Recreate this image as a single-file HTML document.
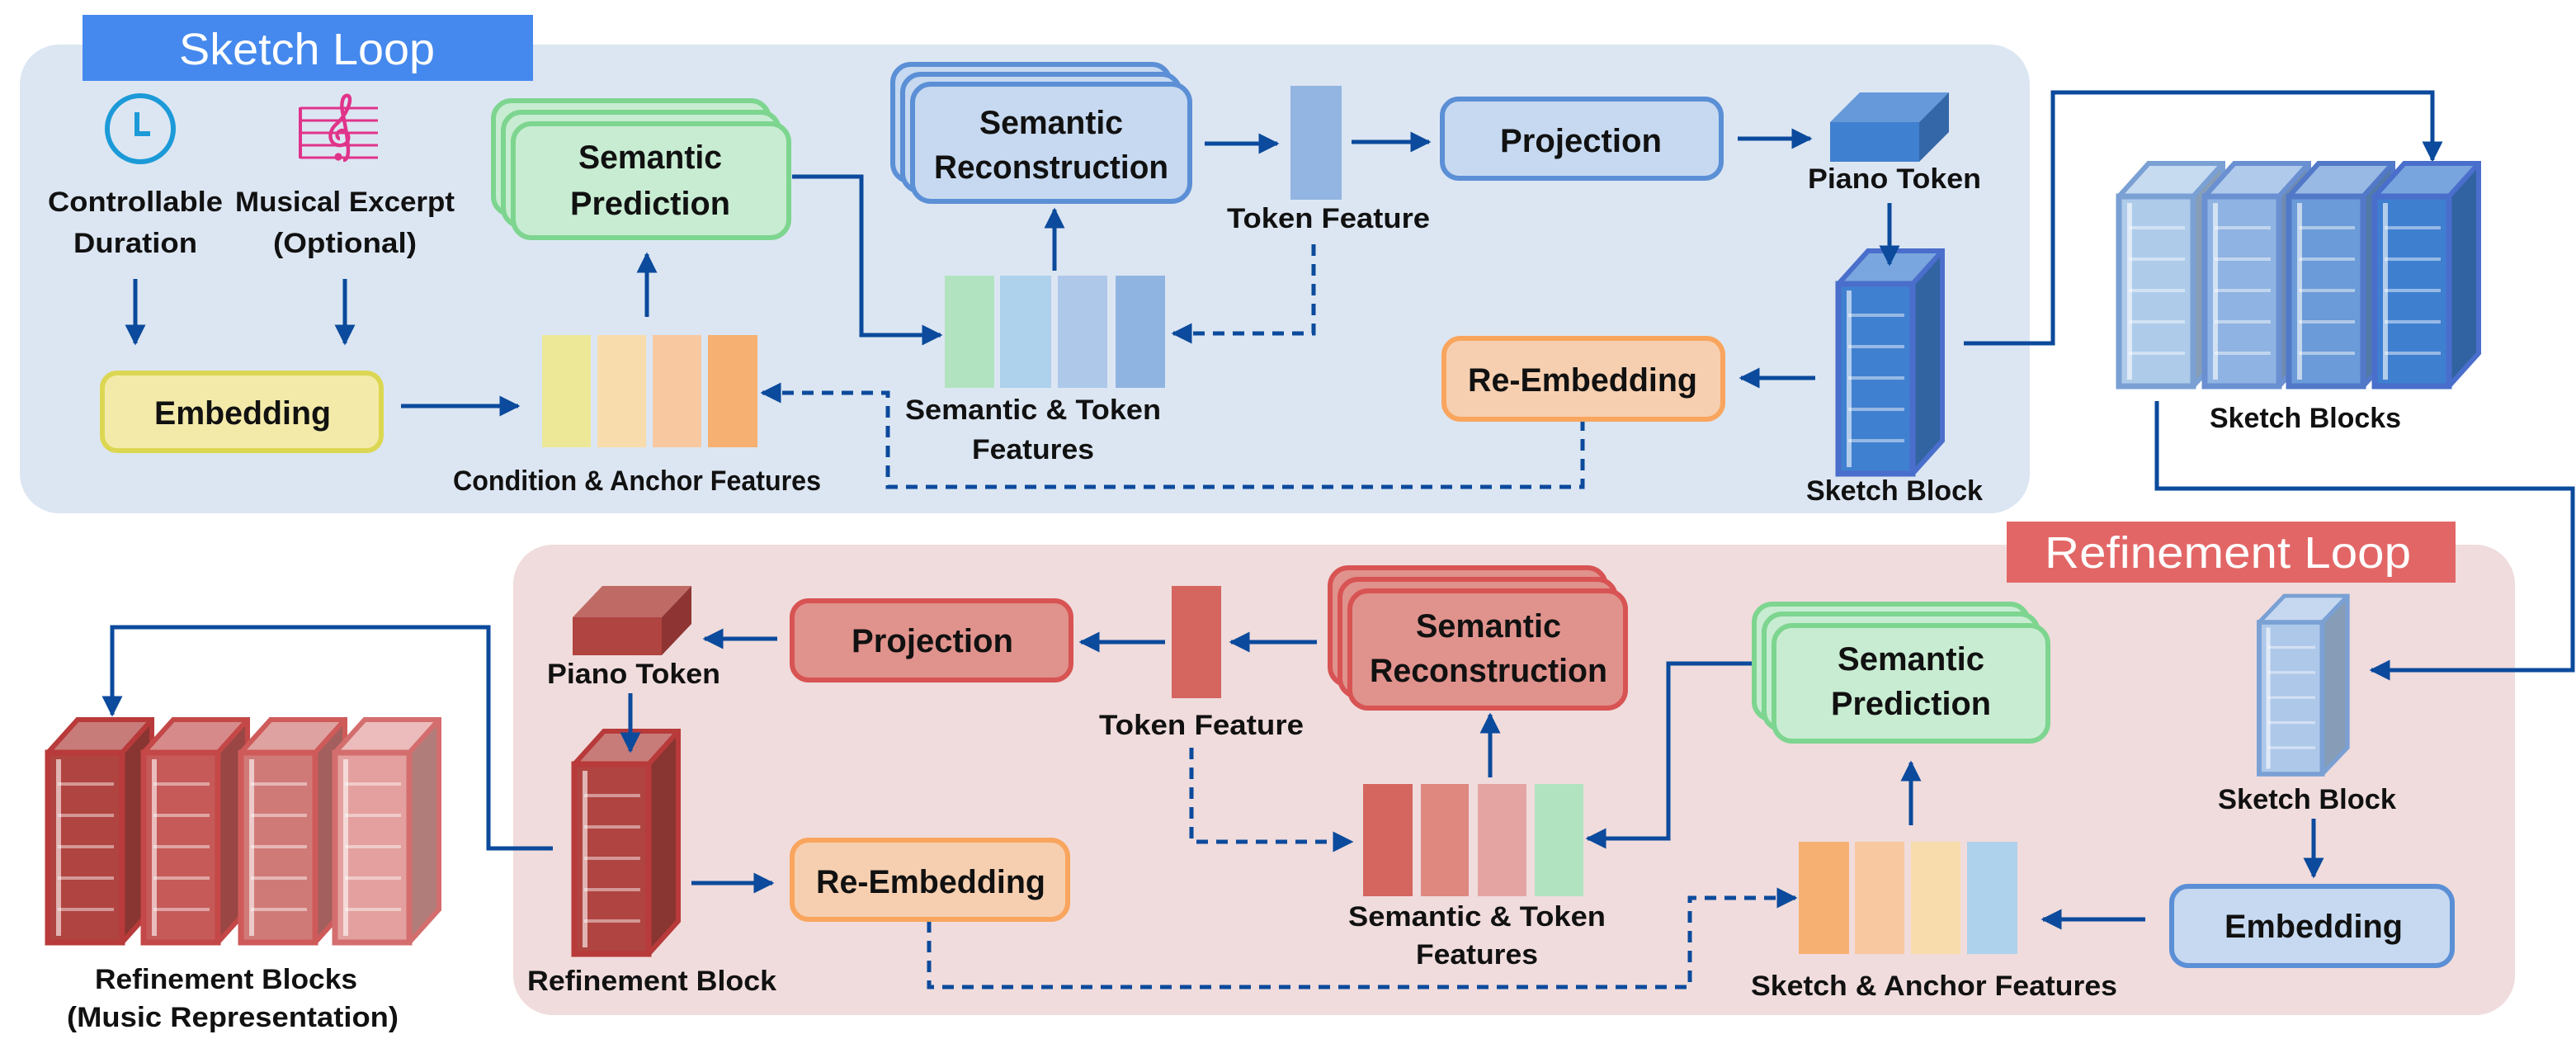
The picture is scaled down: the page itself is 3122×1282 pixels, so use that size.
<!DOCTYPE html>
<html><head><meta charset="utf-8"><style>
html,body{margin:0;padding:0;background:#fff;}
svg{display:block;}
text{font-family:"Liberation Sans",sans-serif;font-weight:bold;fill:#111;}
.l{font-size:17px;}
.b{font-size:20px;}
.h{font-weight:normal;fill:#fff;font-size:27px;}
</style></head><body>
<svg width="3122" height="1282" viewBox="0 0 1561 641" xmlns="http://www.w3.org/2000/svg">
<defs>
<marker id="ar" viewBox="0 0 10 10" refX="9" refY="5" markerWidth="5" markerHeight="5.6" orient="auto" markerUnits="strokeWidth">
<path d="M0,0 L10,5 L0,10 Z" fill="#0b4a9c"/></marker>
<g id="blk">
<path d="M0,0 L45,0 L63,-20 L18,-20Z" fill="currentColor"/>
<path d="M0,0 L45,0 L63,-20 L18,-20Z" fill="#fff" opacity=".3" stroke="none"/>
<path d="M45,0 L63,-20 L63,95 L45,115Z" fill="currentColor"/>
<path d="M45,0 L63,-20 L63,95 L45,115Z" fill="#000" opacity=".22" stroke="none"/>
<rect x="0" y="0" width="45" height="115" fill="currentColor"/>
<rect x="5" y="4" width="3" height="107" fill="#fff" opacity=".6" stroke="none"/>
<g stroke="#fff" stroke-width="2" opacity=".45"><line x1="6" y1="19" x2="40" y2="19"/><line x1="6" y1="38" x2="40" y2="38"/><line x1="6" y1="57" x2="40" y2="57"/><line x1="6" y1="76" x2="40" y2="76"/><line x1="6" y1="95" x2="40" y2="95"/></g>
<rect x="0" y="0" width="45" height="115" fill="none" stroke-width="3.5"/>
<path d="M0,0 L18,-20 L63,-20 L63,95 L45,115 M45,0 L63,-20" fill="none" stroke-width="3"/>
</g>
</defs>

<!-- panels -->
<rect x="12" y="27" width="1218" height="284" rx="24" fill="#dce6f2"/>
<rect x="50" y="9" width="273" height="40" fill="#4589ee"/>
<text class="h" x="186" y="39" text-anchor="middle" textLength="155" lengthAdjust="spacingAndGlyphs">Sketch Loop</text>
<rect x="311" y="330" width="1213" height="285" rx="24" fill="#f0dcdc"/>
<rect x="1216" y="316" width="272" height="37" fill="#e36666"/>
<text class="h" x="1350" y="344" text-anchor="middle" textLength="222" lengthAdjust="spacingAndGlyphs">Refinement Loop</text>

<g stroke="#0b4a9c" stroke-width="2.5" fill="none">
<line x1="82" y1="169" x2="82" y2="208" marker-end="url(#ar)"/>
<line x1="209" y1="169" x2="209" y2="208" marker-end="url(#ar)"/>
<line x1="243" y1="246" x2="314" y2="246" marker-end="url(#ar)"/>
<line x1="392" y1="192" x2="392" y2="154" marker-end="url(#ar)"/>
<path d="M480,107 L522,107 L522,203 L570,203" marker-end="url(#ar)"/>
<line x1="639" y1="164" x2="639" y2="127" marker-end="url(#ar)"/>
<line x1="730" y1="87" x2="774" y2="87" marker-end="url(#ar)"/>
<line x1="819" y1="86" x2="866" y2="86" marker-end="url(#ar)"/>
<line x1="1053" y1="84" x2="1097" y2="84" marker-end="url(#ar)"/>
<line x1="1100" y1="229" x2="1055" y2="229" marker-end="url(#ar)"/>
<path d="M1190,208 L1244,208 L1244,56 L1474,56 L1474,97" marker-end="url(#ar)"/>
<path d="M1307,243 L1307,296 L1559,296 L1559,406 L1437,406" marker-end="url(#ar)"/>
<path d="M796,148 L796,202 L711,202" stroke-dasharray="7 5" marker-end="url(#ar)"/>
<path d="M959,254 L959,295 L538,295 L538,238 L462,238" stroke-dasharray="7 5" marker-end="url(#ar)"/>
<line x1="1402" y1="496" x2="1402" y2="531" marker-end="url(#ar)"/>
<line x1="1300" y1="557" x2="1238" y2="557" marker-end="url(#ar)"/>
<line x1="1158" y1="500" x2="1158" y2="462" marker-end="url(#ar)"/>
<path d="M1062,402 L1011,402 L1011,508 L962,508" marker-end="url(#ar)"/>
<line x1="903" y1="471" x2="903" y2="433" marker-end="url(#ar)"/>
<line x1="798" y1="389" x2="746" y2="389" marker-end="url(#ar)"/>
<line x1="706" y1="389" x2="655" y2="389" marker-end="url(#ar)"/>
<line x1="471" y1="387" x2="427" y2="387" marker-end="url(#ar)"/>
<line x1="419" y1="535" x2="468" y2="535" marker-end="url(#ar)"/>
<path d="M335,514 L296,514 L296,380 L68,380 L68,433" marker-end="url(#ar)"/>
<path d="M722,453 L722,510 L819,510" stroke-dasharray="7 5" marker-end="url(#ar)"/>
<path d="M563,558 L563,598 L1024,598 L1024,544 L1088,544" stroke-dasharray="7 5" marker-end="url(#ar)"/>
</g>

<!-- icons -->
<circle cx="85" cy="78" r="20" fill="none" stroke="#1c9ad8" stroke-width="3"/>
<path d="M83,68 L83,81 L91,81" fill="none" stroke="#1c9ad8" stroke-width="3"/>
<g stroke="#e0338a" stroke-width="1.5" fill="none">
<line x1="182" y1="65.5" x2="229" y2="65.5"/><line x1="182" y1="73" x2="229" y2="73"/><line x1="182" y1="80.5" x2="229" y2="80.5"/><line x1="182" y1="88" x2="229" y2="88"/><line x1="182" y1="95.5" x2="229" y2="95.5"/>
<line x1="182" y1="65" x2="182" y2="96" stroke-width="2"/>
<path d="M208,97 C212,97 212,90 208,70 C206,62 208,57 211,58 C214,60 210,70 203,76 C198,81 200,89 207,88 C213,87 212,79 207,79 C203,80 204,84 206,84" stroke-width="2.2"/>
</g>
<circle cx="205" cy="95" r="2.3" fill="#e0338a"/>

<text class="l" x="82" y="128" text-anchor="middle" textLength="106" lengthAdjust="spacingAndGlyphs">Controllable</text>
<text class="l" x="82" y="153" text-anchor="middle" textLength="75" lengthAdjust="spacingAndGlyphs">Duration</text>
<text class="l" x="209" y="128" text-anchor="middle" textLength="133" lengthAdjust="spacingAndGlyphs">Musical Excerpt</text>
<text class="l" x="209" y="153" text-anchor="middle" textLength="87" lengthAdjust="spacingAndGlyphs">(Optional)</text>

<rect x="62" y="226" width="169" height="47" rx="9" fill="#f3eaaa" stroke="#dcd752" stroke-width="3"/>
<text class="b" x="147" y="257" text-anchor="middle" textLength="107" lengthAdjust="spacingAndGlyphs">Embedding</text>

<rect x="328.5" y="203" width="29.5" height="68" fill="#ede898"/>
<rect x="362" y="203" width="29.5" height="68" fill="#f9dcab"/>
<rect x="395.5" y="203" width="29.5" height="68" fill="#f8c8a0"/>
<rect x="429" y="203" width="30" height="68" fill="#f6b072"/>
<text class="l" x="386" y="297" text-anchor="middle" textLength="223" lengthAdjust="spacingAndGlyphs">Condition &amp; Anchor Features</text>

<g fill="#c8ecd2" stroke="#7dd58f" stroke-width="3">
<rect x="299" y="61" width="167" height="69" rx="11"/>
<rect x="305" y="68" width="167" height="69" rx="11"/>
<rect x="311" y="75" width="167" height="69" rx="11"/>
</g>
<text class="b" x="394" y="102" text-anchor="middle" textLength="87" lengthAdjust="spacingAndGlyphs">Semantic</text>
<text class="b" x="394" y="130" text-anchor="middle" textLength="97" lengthAdjust="spacingAndGlyphs">Prediction</text>

<g fill="#c6d9f0" stroke="#5b8fd6" stroke-width="3">
<rect x="541" y="39" width="168" height="71" rx="11"/>
<rect x="547" y="45" width="168" height="71" rx="11"/>
<rect x="553" y="51" width="168" height="71" rx="11"/>
</g>
<text class="b" x="637" y="81" text-anchor="middle" textLength="87" lengthAdjust="spacingAndGlyphs">Semantic</text>
<text class="b" x="637" y="108" text-anchor="middle" textLength="142" lengthAdjust="spacingAndGlyphs">Reconstruction</text>

<rect x="572.5" y="167" width="30" height="68" fill="#b2e3c0"/>
<rect x="606" y="167" width="31" height="68" fill="#aed1ec"/>
<rect x="641" y="167" width="30" height="68" fill="#aec8ea"/>
<rect x="676" y="167" width="30" height="68" fill="#90b4e1"/>
<text class="l" x="626" y="254" text-anchor="middle" textLength="155" lengthAdjust="spacingAndGlyphs">Semantic &amp; Token</text>
<text class="l" x="626" y="278" text-anchor="middle" textLength="74" lengthAdjust="spacingAndGlyphs">Features</text>

<rect x="782" y="52" width="31" height="69" fill="#92b5e2"/>
<text class="l" x="805" y="138" text-anchor="middle" textLength="123" lengthAdjust="spacingAndGlyphs">Token Feature</text>

<rect x="874" y="60" width="169" height="48" rx="10" fill="#c6d9f0" stroke="#5b8fd6" stroke-width="3"/>
<text class="b" x="958" y="92" text-anchor="middle" textLength="98" lengthAdjust="spacingAndGlyphs">Projection</text>

<rect x="875" y="205" width="169" height="49" rx="10" fill="#f6cfb0" stroke="#f9a55e" stroke-width="3"/>
<text class="b" x="959" y="237" text-anchor="middle" textLength="139" lengthAdjust="spacingAndGlyphs">Re-Embedding</text>

<path d="M1109,74 L1163,74 L1181,56 L1127,56Z" fill="#6699d9"/>
<path d="M1163,74 L1181,56 L1181,80 L1163,98Z" fill="#3467a8"/>
<rect x="1109" y="74" width="54" height="24" fill="#4080d0"/>
<text class="l" x="1148" y="114" text-anchor="middle" textLength="105" lengthAdjust="spacingAndGlyphs">Piano Token</text>

<use href="#blk" x="1114" y="172" style="color:#4080d0" stroke="#4a6ecb"/>
<text class="l" x="1148" y="303" text-anchor="middle" textLength="107" lengthAdjust="spacingAndGlyphs">Sketch Block</text>
<use href="#blk" x="1284" y="119" style="color:#aecbea" stroke="#7aa0d4"/>
<use href="#blk" x="1336" y="119" style="color:#8fb3e2" stroke="#6a90d2"/>
<use href="#blk" x="1387" y="119" style="color:#6b9bd8" stroke="#5278c8"/>
<use href="#blk" x="1439" y="119" style="color:#3f7fd0" stroke="#4a6ecb"/>
<text class="l" x="1397" y="259" text-anchor="middle" textLength="116" lengthAdjust="spacingAndGlyphs">Sketch Blocks</text>

<g transform="translate(1369,377) scale(0.85,0.8)"><use href="#blk" style="color:#aec8ea" stroke="#7aa0d4"/></g>
<text class="l" x="1398" y="490" text-anchor="middle" textLength="108" lengthAdjust="spacingAndGlyphs">Sketch Block</text>

<rect x="1316" y="537" width="170" height="48" rx="10" fill="#c6d9f0" stroke="#5b8fd6" stroke-width="3"/>
<text class="b" x="1402" y="568" text-anchor="middle" textLength="108" lengthAdjust="spacingAndGlyphs">Embedding</text>

<rect x="1090" y="510" width="30.5" height="68" fill="#f6b072"/>
<rect x="1124" y="510" width="30" height="68" fill="#f8c8a0"/>
<rect x="1158" y="510" width="30" height="68" fill="#f9dcab"/>
<rect x="1192" y="510" width="30.5" height="68" fill="#aed1ec"/>
<text class="l" x="1172" y="603" text-anchor="middle" textLength="222" lengthAdjust="spacingAndGlyphs">Sketch &amp; Anchor Features</text>

<g fill="#c8ecd2" stroke="#7dd58f" stroke-width="3">
<rect x="1063" y="366" width="166" height="70" rx="11"/>
<rect x="1069" y="372" width="166" height="70" rx="11"/>
<rect x="1075" y="379" width="166" height="70" rx="11"/>
</g>
<text class="b" x="1158" y="406" text-anchor="middle" textLength="89" lengthAdjust="spacingAndGlyphs">Semantic</text>
<text class="b" x="1158" y="433" text-anchor="middle" textLength="97" lengthAdjust="spacingAndGlyphs">Prediction</text>

<rect x="826" y="475" width="30" height="68" fill="#d4655f"/>
<rect x="861" y="475" width="29" height="68" fill="#de8880"/>
<rect x="895.5" y="475" width="29.5" height="68" fill="#e4a5a2"/>
<rect x="930" y="475" width="29.5" height="68" fill="#b2e3c0"/>
<text class="l" x="895" y="561" text-anchor="middle" textLength="156" lengthAdjust="spacingAndGlyphs">Semantic &amp; Token</text>
<text class="l" x="895" y="584" text-anchor="middle" textLength="74" lengthAdjust="spacingAndGlyphs">Features</text>

<g fill="#e0928c" stroke="#d85353" stroke-width="3">
<rect x="806" y="344" width="167" height="71" rx="11"/>
<rect x="812" y="351" width="167" height="71" rx="11"/>
<rect x="818" y="358" width="167" height="71" rx="11"/>
</g>
<text class="b" x="902" y="386" text-anchor="middle" textLength="88" lengthAdjust="spacingAndGlyphs">Semantic</text>
<text class="b" x="902" y="413" text-anchor="middle" textLength="144" lengthAdjust="spacingAndGlyphs">Reconstruction</text>

<rect x="710" y="355" width="30" height="68" fill="#d4655f"/>
<text class="l" x="728" y="445" text-anchor="middle" textLength="124" lengthAdjust="spacingAndGlyphs">Token Feature</text>

<rect x="480" y="364" width="169" height="48" rx="10" fill="#e0928c" stroke="#d85353" stroke-width="3"/>
<text class="b" x="565" y="395" text-anchor="middle" textLength="98" lengthAdjust="spacingAndGlyphs">Projection</text>

<rect x="480" y="509" width="167" height="48" rx="10" fill="#f6cfb0" stroke="#f9a55e" stroke-width="3"/>
<text class="b" x="564" y="541" text-anchor="middle" textLength="139" lengthAdjust="spacingAndGlyphs">Re-Embedding</text>

<path d="M347,374 L401,374 L419,355 L365,355Z" fill="#c06a66"/>
<path d="M401,374 L419,355 L419,378 L401,397Z" fill="#8e3533"/>
<rect x="347" y="374" width="54" height="23" fill="#b04440"/>
<text class="l" x="384" y="414" text-anchor="middle" textLength="105" lengthAdjust="spacingAndGlyphs">Piano Token</text>

<use href="#blk" x="348" y="463" style="color:#b04440" stroke="#b83a3a"/>
<text class="l" x="395" y="600" text-anchor="middle" textLength="151" lengthAdjust="spacingAndGlyphs">Refinement Block</text>

<use href="#blk" x="29" y="456" style="color:#b04440" stroke="#b83a3a"/>
<use href="#blk" x="87" y="456" style="color:#c55a58" stroke="#c44848"/>
<use href="#blk" x="146" y="456" style="color:#d07a78" stroke="#cf5a5a"/>
<use href="#blk" x="203" y="456" style="color:#e3a09e" stroke="#d46e6e"/>
<text class="l" x="137" y="599" text-anchor="middle" textLength="159" lengthAdjust="spacingAndGlyphs">Refinement Blocks</text>
<text class="l" x="141" y="622" text-anchor="middle" textLength="201" lengthAdjust="spacingAndGlyphs">(Music Representation)</text>

<!-- arrows drawn over blocks -->
<g stroke="#0b4a9c" stroke-width="2.5" fill="none">
<line x1="1145" y1="123" x2="1145" y2="160" marker-end="url(#ar)"/>
<line x1="382" y1="420" x2="382" y2="455" marker-end="url(#ar)"/>
</g>
</svg>
</body></html>
